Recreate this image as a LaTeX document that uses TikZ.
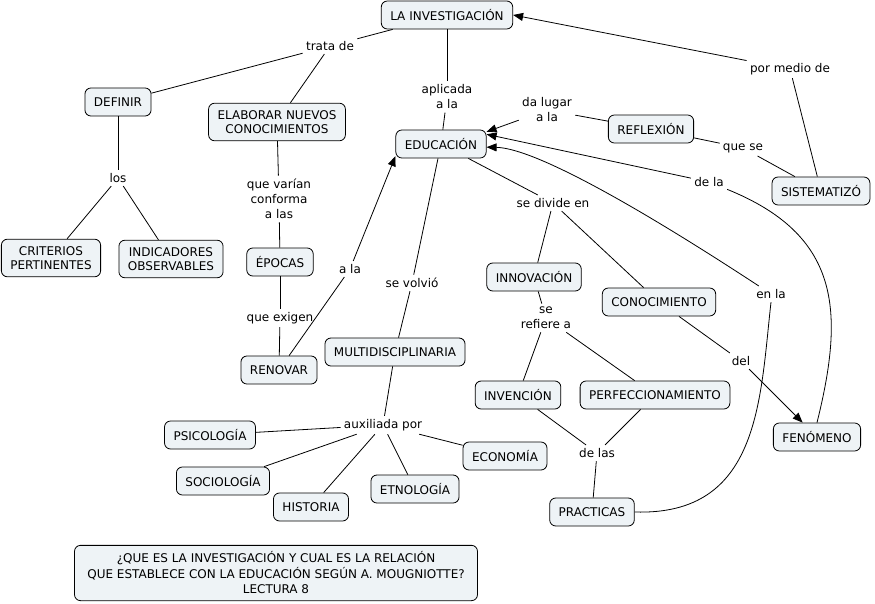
\documentclass[tikz,border=0pt]{standalone}
\usepackage{fontspec}
\setmainfont{DejaVu Sans}
\usepackage{xcolor}
\usetikzlibrary{arrows.meta}
\definecolor{scheme}{HTML}{EEF3F6}
\tikzset{
	concept/.style={fill=scheme,draw,line width=0.8pt,rounded corners=6pt,align=center,inner xsep=9pt,inner ysep=4pt,minimum height=28pt,font=\fontsize{12}{14.5}\selectfont},
	twoline/.style={inner ysep=7pt},
	link/.style={align=center,inner sep=3pt,font=\fontsize{12}{15}\selectfont},
	linkarrow/.style={-{Triangle[length=10pt,width=8pt]}}
}
\begin{document}
\begin{tikzpicture}[x=1pt,y=-1pt,line width=0.8pt]
					\useasboundingbox (0,0) rectangle (875,604);
					% concepts
					\node[concept] (investigacion) at (447,15) {LA INVESTIGACIÓN};
					\node[concept] (definir) at (118,102) {DEFINIR};
					\node[concept,twoline] (elaborar) at (277,122) {ELABORAR NUEVOS\\CONOCIMIENTOS};
					\node[concept] (educacion) at (441,144) {EDUCACIÓN};
					\node[concept] (reflexion) at (651,129) {REFLEXIÓN};
					\node[concept] (sistematizo) at (821,191) {SISTEMATIZÓ};
					\node[concept,twoline] (criterios) at (51,258) {CRITERIOS\\PERTINENTES};
					\node[concept,twoline] (indicadores) at (171,259) {INDICADORES\\OBSERVABLES};
					\node[concept] (epocas) at (280,262) {ÉPOCAS};
					\node[concept] (innovacion) at (534,277) {INNOVACIÓN};
					\node[concept] (conocimiento) at (659,302) {CONOCIMIENTO};
					\node[concept] (renovar) at (279,370) {RENOVAR};
					\node[concept] (multi) at (395,352) {MULTIDISCIPLINARIA};
					\node[concept] (invencion) at (518,395) {INVENCIÓN};
					\node[concept] (perfecc) at (655,395) {PERFECCIONAMIENTO};
					\node[concept] (fenomeno) at (817,437) {FENÓMENO};
					\node[concept] (psicologia) at (210,435) {PSICOLOGÍA};
					\node[concept] (economia) at (505,456) {ECONOMÍA};
					\node[concept] (sociologia) at (223,481) {SOCIOLOGÍA};
					\node[concept] (historia) at (311,507) {HISTORIA};
					\node[concept] (etnologia) at (415,489) {ETNOLOGÍA};
					\node[concept] (practicas) at (592,512) {PRACTICAS};
					\node[concept,inner ysep=6.5pt,minimum width=403pt,font=\fontsize{12}{15.5}\selectfont] (titulo) at (276,573) {¿QUE ES LA INVESTIGACIÓN Y CUAL ES LA RELACIÓN\\QUE ESTABLECE CON LA EDUCACIÓN SEGÚN A. MOUGNIOTTE?\\LECTURA 8};
					
					% linking phrases
					\node[link] (tratade) at (330,46) {trata de};
					\node[link] (aplicada) at (447,97) {aplicada\\a la};
					\node[link] (dalugar) at (547,110) {da lugar\\a la};
					\node[link] (pormedio) at (790,69) {por medio de};
					\node[link] (quese) at (743,148) {que se};
					\node[link] (dela) at (709,182) {de la};
					\node[link] (sedivide) at (553,203) {se divide en};
					\node[link] (enla) at (771,294) {en la};
					\node[link] (los) at (118,178) {los};
					\node[link] (quevarian) at (279,199) {que varían\\conforma\\a las};
					\node[link] (ala) at (350,269) {a la};
					\node[link] (sevolvio) at (412,283) {se volvió};
					\node[link] (queexigen) at (280,318) {que exigen};
					\node[link] (serefiere) at (546,318) {se\\refiere a};
					\node[link] (del) at (741,361) {del};
					\node[link] (auxiliada) at (383,425) {auxiliada por};
					\node[link] (delas) at (597,453) {de las};
					
					% connectors
					\draw (investigacion) -- (tratade);
					\draw (tratade) -- (definir);
					\draw (tratade) -- (elaborar);
					\draw (investigacion) -- (aplicada);
					\draw (aplicada) -- (educacion);
					\draw (reflexion) -- (dalugar);
					\draw[linkarrow] (dalugar) -- (educacion.15);
					\draw (sistematizo) -- (pormedio);
					\draw[linkarrow] (pormedio) -- (investigacion.east);
					\draw (reflexion) -- (quese);
					\draw (quese) -- (sistematizo);
					\draw (fenomeno.north) .. controls (845,310) and (840,235) .. (dela);
					\draw[linkarrow] (dela) -- (educacion.12);
					\draw (educacion) -- (sedivide);
					\draw (sedivide) -- (innovacion);
					\draw (sedivide) -- (conocimiento);
					\draw (practicas.east) .. controls (760,516) and (760,400) .. (enla.south);
					\draw[linkarrow] (enla) .. controls (620,195) and (530,148) .. (educacion.-4);
					\draw (definir) -- (los);
					\draw (los) -- (criterios);
					\draw (los) -- (indicadores);
					\draw (elaborar) -- (quevarian);
					\draw (quevarian) -- (epocas);
					\draw (epocas) -- (queexigen);
					\draw (queexigen) -- (renovar);
					\draw (renovar) -- (ala);
					\draw[linkarrow] (ala) -- (educacion.195);
					\draw (educacion) -- (sevolvio);
					\draw (sevolvio) -- (multi);
					\draw (innovacion) -- (serefiere);
					\draw (serefiere) -- (invencion);
					\draw (serefiere) -- (perfecc);
					\draw (conocimiento) -- (del);
					\draw[linkarrow] (del) -- (fenomeno);
					\draw (multi) -- (auxiliada);
					\draw (auxiliada) -- (psicologia);
					\draw (auxiliada) -- (sociologia);
					\draw (auxiliada) -- (historia);
					\draw (auxiliada) -- (etnologia);
					\draw (auxiliada) -- (economia);
					\draw (invencion) -- (delas);
					\draw (perfecc) -- (delas);
					\draw (delas) -- (practicas);
				\end{tikzpicture}
\end{document}
